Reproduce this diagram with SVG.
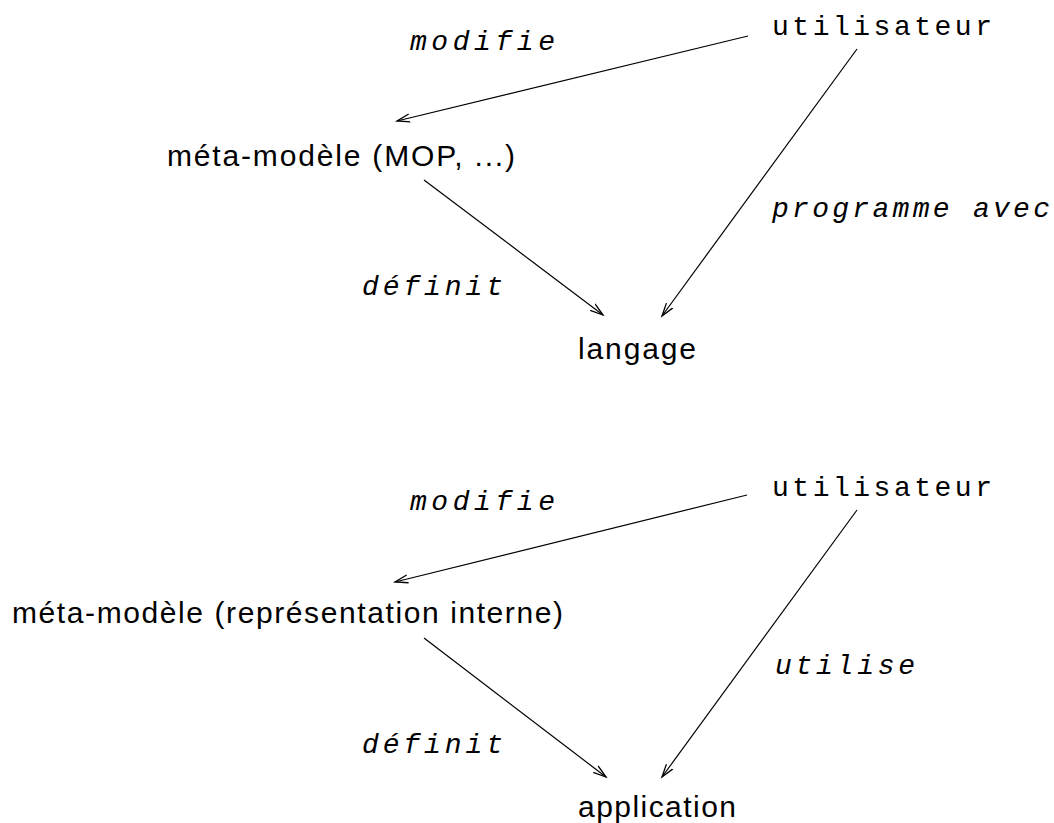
<svg xmlns="http://www.w3.org/2000/svg" width="1054" height="823" viewBox="0 0 1054 823">
<defs>
<style>
.sans{font-family:"Liberation Sans",Arial,sans-serif;font-size:30px;fill:#000}
.mono{font-family:"Liberation Mono","Courier New",monospace;font-size:28px;fill:#000}
.it{font-style:italic}
.edge{stroke:#000;stroke-width:1.2;fill:none;marker-end:url(#ah)}
</style>
<marker id="ah" markerUnits="userSpaceOnUse" markerWidth="16" markerHeight="12" refX="13" refY="5" orient="auto" viewBox="0 0 16 10">
<path d="M0,1 L13,5 L0,9" fill="none" stroke="#000" stroke-width="1.3"/>
</marker>
</defs>
<rect width="1054" height="823" fill="#fff"/>
<g id="connectors">
<line class="edge" x1="748" y1="36" x2="397" y2="121"/>
<line class="edge" x1="424" y1="180" x2="603" y2="315"/>
<line class="edge" x1="857" y1="49" x2="662" y2="316"/>
<line class="edge" x1="747" y1="495" x2="395" y2="582"/>
<line class="edge" x1="424" y1="638" x2="606" y2="777"/>
<line class="edge" x1="857" y1="510" x2="662" y2="777"/>
</g>
<g id="labels">
<text class="mono it" x="410" y="50" textLength="145" lengthAdjust="spacing">modifie</text>
<text class="mono it" x="772" y="217" textLength="278" lengthAdjust="spacing">programme avec</text>
<text class="mono it" x="362" y="295" textLength="141" lengthAdjust="spacing">définit</text>
<text class="mono it" x="410" y="510" textLength="145" lengthAdjust="spacing">modifie</text>
<text class="mono it" x="775" y="674" textLength="140" lengthAdjust="spacing">utilise</text>
<text class="mono it" x="362" y="753" textLength="141" lengthAdjust="spacing">définit</text>
</g>
<g id="utilisateur1"><text class="mono" x="772" y="35" textLength="220" lengthAdjust="spacing">utilisateur</text></g>
<g id="metamodele1"><text class="sans" x="167" y="166" textLength="348" lengthAdjust="spacing">méta-modèle (MOP, ...)</text></g>
<g id="langage"><text class="sans" x="578" y="359" textLength="118" lengthAdjust="spacing">langage</text></g>
<g id="utilisateur2"><text class="mono" x="772" y="496" textLength="220" lengthAdjust="spacing">utilisateur</text></g>
<g id="metamodele2"><text class="sans" x="12" y="623" textLength="551" lengthAdjust="spacing">méta-modèle (représentation interne)</text></g>
<g id="application"><text class="sans" x="578" y="817" textLength="158" lengthAdjust="spacing">application</text></g>
</svg>
